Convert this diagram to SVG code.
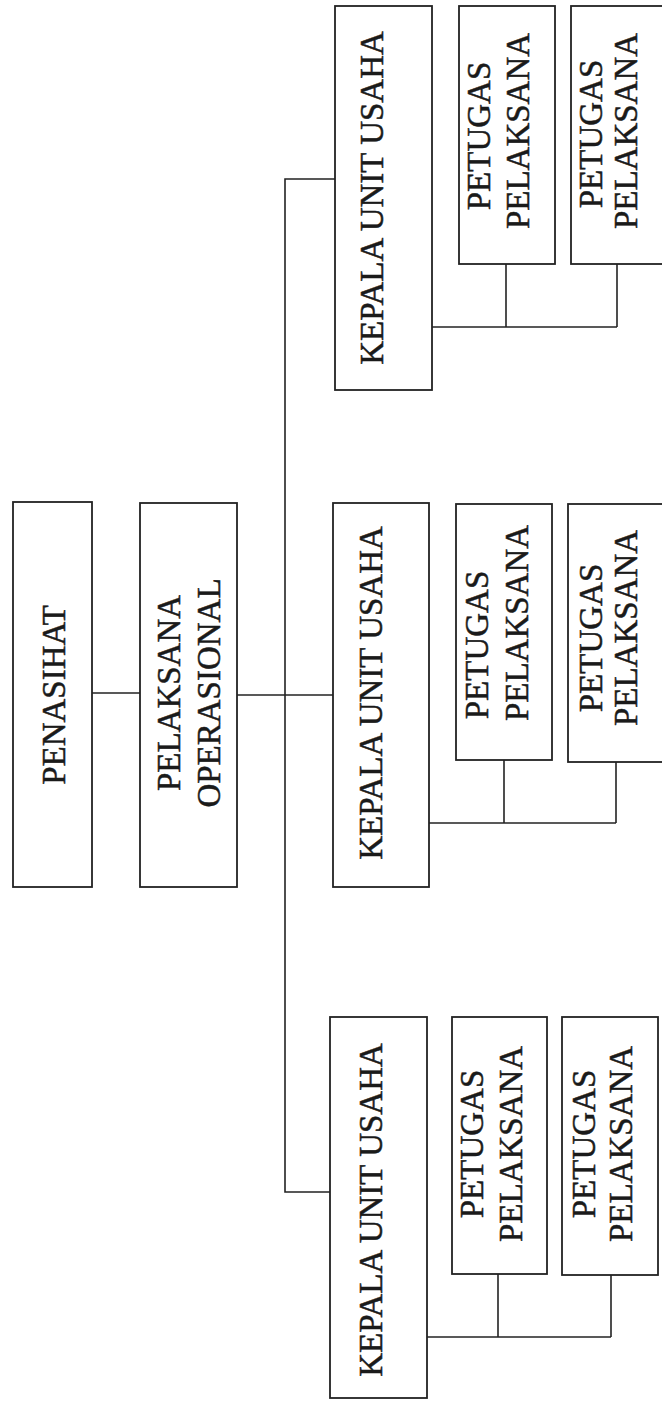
<svg xmlns="http://www.w3.org/2000/svg" width="662" height="1404" viewBox="0 0 662 1404">
<style>
.box{fill:#fff;stroke:#222;stroke-width:1.8}
.ln{fill:none;stroke:#222;stroke-width:1.6}
text{font-family:"Liberation Serif","Times New Roman",serif;font-size:33px;fill:#1a1a1a;stroke:#1a1a1a;stroke-width:0.5;text-anchor:middle}
</style>
<rect width="662" height="1404" fill="#fff"/>
<g id="connectors">
<line class="ln" x1="92" y1="693" x2="140" y2="693"/>
<line class="ln" x1="237" y1="695" x2="333" y2="695"/>
<polyline class="ln" points="335,179 285,179 285,1192 330,1192"/>
<line class="ln" x1="432" y1="327" x2="617" y2="327"/>
<line class="ln" x1="506" y1="264" x2="506" y2="327"/>
<line class="ln" x1="617" y1="264" x2="617" y2="327"/>
<line class="ln" x1="429" y1="823" x2="616" y2="823"/>
<line class="ln" x1="504" y1="760" x2="504" y2="823"/>
<line class="ln" x1="616" y1="762" x2="616" y2="823"/>
<line class="ln" x1="427" y1="1337" x2="611" y2="1337"/>
<line class="ln" x1="498" y1="1274" x2="498" y2="1337"/>
<line class="ln" x1="611" y1="1275" x2="611" y2="1337"/>
</g>
<g id="penasihat">
<rect class="box" x="13" y="502" width="79" height="385"/>
<text transform="translate(65,695) rotate(-90)">PENASIHAT</text>
</g>
<g id="pelaksana-operasional">
<rect class="box" x="140" y="503" width="97" height="384"/>
<text transform="translate(180,693) rotate(-90)">PELAKSANA</text>
<text transform="translate(220,693) rotate(-90)">OPERASIONAL</text>
</g>
<g id="kepala-1">
<rect class="box" x="335" y="6" width="97" height="384"/>
<text transform="translate(383,198) rotate(-90)">KEPALA UNIT USAHA</text>
</g>
<g id="petugas-1a">
<rect class="box" x="459" y="6" width="96" height="258"/>
<text transform="translate(490,136) rotate(-90)">PETUGAS</text>
<text transform="translate(529,131) rotate(-90)">PELAKSANA</text>
</g>
<g id="petugas-1b">
<rect class="box" x="571" y="6" width="96" height="258"/>
<text transform="translate(602,134) rotate(-90)">PETUGAS</text>
<text transform="translate(637,131) rotate(-90)">PELAKSANA</text>
</g>
<g id="kepala-2">
<rect class="box" x="333" y="503" width="96" height="384"/>
<text transform="translate(382,693) rotate(-90)">KEPALA UNIT USAHA</text>
</g>
<g id="petugas-2a">
<rect class="box" x="456" y="504" width="96" height="256"/>
<text transform="translate(488,645) rotate(-90)">PETUGAS</text>
<text transform="translate(528,623) rotate(-90)">PELAKSANA</text>
</g>
<g id="petugas-2b">
<rect class="box" x="568" y="504" width="99" height="258"/>
<text transform="translate(602,638) rotate(-90)">PETUGAS</text>
<text transform="translate(637,628) rotate(-90)">PELAKSANA</text>
</g>
<g id="kepala-3">
<rect class="box" x="330" y="1017" width="97" height="381"/>
<text transform="translate(382,1210) rotate(-90)">KEPALA UNIT USAHA</text>
</g>
<g id="petugas-3a">
<rect class="box" x="452" y="1017" width="95" height="257"/>
<text transform="translate(483,1144) rotate(-90)">PETUGAS</text>
<text transform="translate(522,1144) rotate(-90)">PELAKSANA</text>
</g>
<g id="petugas-3b">
<rect class="box" x="562" y="1017" width="96" height="258"/>
<text transform="translate(595,1144) rotate(-90)">PETUGAS</text>
<text transform="translate(632,1144) rotate(-90)">PELAKSANA</text>
</g>
</svg>
